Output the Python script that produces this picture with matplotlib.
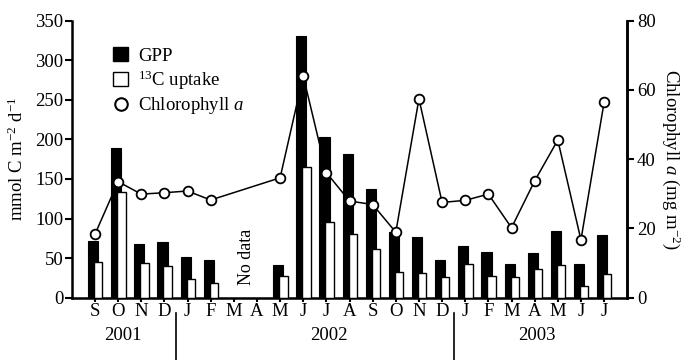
import numpy as np
import matplotlib
matplotlib.use('Agg')
import matplotlib.pyplot as plt
import matplotlib.transforms as mtransforms
from matplotlib.patches import Patch
from matplotlib.lines import Line2D

plt.rcParams['font.family'] = ['Liberation Serif', 'DejaVu Serif']
plt.rcParams['mathtext.fontset'] = 'custom'
plt.rcParams['mathtext.rm'] = 'Liberation Serif'
plt.rcParams['mathtext.it'] = 'Liberation Serif:italic'

# monthly data, Sep 2001 - Jul 2003 (nan = no data)
months = ['S', 'O', 'N', 'D', 'J', 'F', 'M', 'A', 'M', 'J', 'J', 'A',
          'S', 'O', 'N', 'D', 'J', 'F', 'M', 'A', 'M', 'J', 'J']
gpp = [72, 189, 68, 70, 52, 48, np.nan, np.nan, 41, 330, 203, 181,
       137, 83, 77, 47, 65, 58, 43, 57, 84, 43, 79]
c13_uptake = [45, 133, 44, 40, 24, 19, np.nan, np.nan, 27, 165, 95, 81,
              62, 33, 31, 26, 42, 28, 26, 36, 41, 15, 30]
chl_a = [18.3, 33.5, 29.9, 30.3, 30.8, 28.2, np.nan, np.nan, 34.6, 64.0, 36.1, 27.9,
         26.9, 18.9, 57.4, 27.5, 28.1, 29.9, 20.2, 33.7, 45.5, 16.7, 56.4]
years = ['2001', '2002', '2003']
year_pos = [1.2, 10.1, 19.1]
year_breaks = [3.5, 15.5]

fs = 13.5
x = np.arange(len(months))

fig = plt.figure(figsize=(6.84, 3.6), dpi=100)
ax = fig.add_axes([0.105, 0.173, 0.812, 0.770])

ax.bar(x - 0.08, gpp, width=0.44, color='black', edgecolor='black', linewidth=0.8, zorder=2)
ax.bar(x + 0.14, c13_uptake, width=0.36, color='white', edgecolor='black', linewidth=1.0, zorder=3)

ax.set_xlim(-1, len(months))
ax.set_ylim(0, 350)
ax.set_yticks(range(0, 351, 50))
ax.set_xticks(x)
ax.set_xticklabels(months, fontsize=fs)
ax.tick_params(axis='y', labelsize=fs, direction='out', length=5, width=1.5, pad=1)
ax.tick_params(axis='x', direction='out', length=3, width=1.5, pad=1)
ax.set_ylabel(r'mmol C m$^{-2}$ d$^{-1}$', fontsize=fs, labelpad=6)
for s in ['left', 'bottom', 'right']:
    ax.spines[s].set_linewidth(1.8)
ax.spines['top'].set_visible(False)

ax2 = ax.twinx()
ax2.set_ylim(0, 80)
ax2.set_yticks(range(0, 81, 20))
mask = ~np.isnan(chl_a)
ax2.plot(x[mask], np.array(chl_a)[mask], color='black', linewidth=1.1,
         marker='o', markersize=7, markerfacecolor='white', markeredgecolor='black',
         markeredgewidth=1.3, zorder=4)
ax2.tick_params(axis='y', labelsize=fs, direction='out', length=5, width=1.5, pad=2)
ax2.set_ylabel(r'Chlorophyll $a$ (mg m$^{-2}$)', fontsize=fs, rotation=270, labelpad=19)
ax2.spines['top'].set_visible(False)
ax2.spines['right'].set_linewidth(1.8)
ax2.spines['left'].set_visible(False)

ax.text(6.55, 52, 'No data', rotation=90, ha='center', va='center', fontsize=fs - 0.5)

trans = mtransforms.blended_transform_factory(ax.transData, ax.transAxes)
for yr, xp in zip(years, year_pos):
    ax.text(xp, -0.135, yr, transform=trans, ha='center', va='center', fontsize=fs)
for xb in year_breaks:
    ax.plot([xb, xb], [-0.055, -0.23], transform=trans, color='black',
            linewidth=1.2, clip_on=False)

handles = [Patch(facecolor='black', edgecolor='black'),
           Patch(facecolor='white', edgecolor='black', linewidth=1),
           Line2D([], [], linestyle='none', marker='o', markersize=9,
                  markerfacecolor='white', markeredgecolor='black', markeredgewidth=1.5)]
labels = ['GPP', r'$^{13}$C uptake', r'Chlorophyll $a$']
ax.legend(handles, labels, loc='upper left', bbox_to_anchor=(0.075, 0.905),
          frameon=False, fontsize=fs, handlelength=0.8, handleheight=0.8,
          handletextpad=0.5, labelspacing=0.2, borderpad=0, borderaxespad=0)

fig.savefig('out.png', dpi=100)
